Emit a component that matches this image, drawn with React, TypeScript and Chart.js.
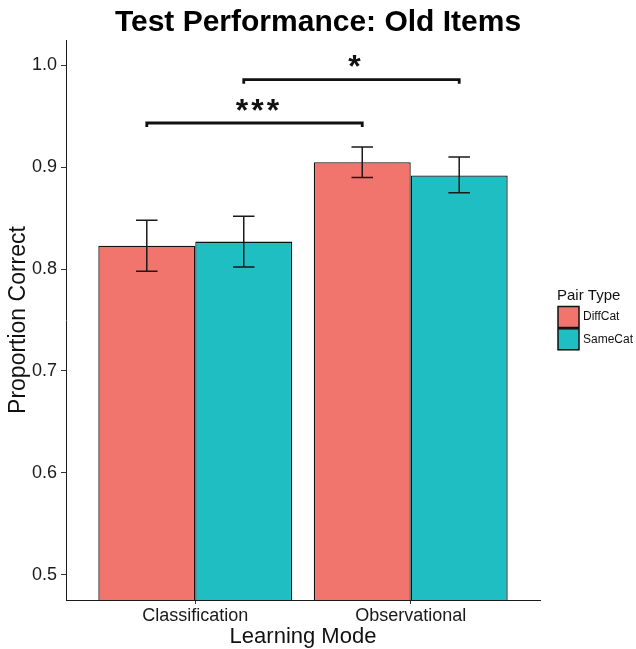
import React, { useEffect, useRef } from 'react';
import { Chart, registerables } from 'chart.js';

Chart.register(...registerables);

const FONT = "'Liberation Sans', Arial, sans-serif";

const chartTitle = 'Test Performance: Old Items';
const xTitle = 'Learning Mode';
const yTitle = 'Proportion Correct';
const legendTitle = 'Pair Type';

const categories = ['Classification', 'Observational'];
const categoryPositions = [1, 2];
const seriesNames = ['DiffCat', 'SameCat'];
const seriesColors = ['#F2756D', '#1FBEC2'];

const diffCatMeans = [0.823, 0.905];
const diffCatLow = [0.798, 0.89];
const diffCatHigh = [0.848, 0.92];
const sameCatMeans = [0.827, 0.892];
const sameCatLow = [0.802, 0.875];
const sameCatHigh = [0.852, 0.91];

const yTicks = [0.5, 0.6, 0.7, 0.8, 0.9, 1.0];
const yMin = 0.475;
const yMax = 1.025;
const xMin = 0.4;
const xMax = 2.6;

const sigLabels = ['***', '*'];
const sigHeights = [0.9435, 0.986];
const sigSeries = [0, 1]; // series compared across the two categories
const sigHook = 0.004;
const whiskerHalfWidth = 0.05;

const errLows = [diffCatLow, sameCatLow];
const errHighs = [diffCatHigh, sameCatHigh];

const titlePlugin = {
  id: 'centeredTitle',
  afterDraw(chart: any) {
    const { ctx, width } = chart;
    ctx.save();
    ctx.fillStyle = '#000';
    ctx.font = `bold 30px ${FONT}`;
    ctx.textAlign = 'center';
    ctx.textBaseline = 'alphabetic';
    ctx.fillText(chartTitle, width / 2, 31);
    ctx.restore();
  },
};

const errorBarPlugin = {
  id: 'errorBars',
  afterDatasetsDraw(chart: any) {
    const { ctx, scales } = chart;
    const x = scales.x;
    const y = scales.y;
    const half = x.getPixelForValue(1 + whiskerHalfWidth) - x.getPixelForValue(1);
    ctx.save();
    ctx.strokeStyle = '#1a1a1a';
    ctx.lineWidth = 1.5;
    chart.data.datasets.forEach((_ds: any, di: number) => {
      const meta = chart.getDatasetMeta(di);
      meta.data.forEach((bar: any, i: number) => {
        const cx = bar.x;
        const yl = y.getPixelForValue(errLows[di][i]);
        const yh = y.getPixelForValue(errHighs[di][i]);
        ctx.beginPath();
        ctx.moveTo(cx, yh);
        ctx.lineTo(cx, yl);
        ctx.moveTo(cx - half, yh);
        ctx.lineTo(cx + half, yh);
        ctx.moveTo(cx - half, yl);
        ctx.lineTo(cx + half, yl);
        ctx.stroke();
      });
    });
    ctx.restore();
  },
};

const bracketPlugin = {
  id: 'sigBrackets',
  afterDatasetsDraw(chart: any) {
    const { ctx, scales } = chart;
    const y = scales.y;
    const size = 32;
    ctx.save();
    sigLabels.forEach((label, k) => {
      const meta = chart.getDatasetMeta(sigSeries[k]);
      const x1 = meta.data[0].x;
      const x2 = meta.data[1].x;
      const yy = y.getPixelForValue(sigHeights[k]);
      const yh = y.getPixelForValue(sigHeights[k] - sigHook);
      ctx.strokeStyle = '#111';
      ctx.lineWidth = 2.8;
      ctx.lineJoin = 'miter';
      ctx.beginPath();
      ctx.moveTo(x1, yh);
      ctx.lineTo(x1, yy);
      ctx.lineTo(x2, yy);
      ctx.lineTo(x2, yh);
      ctx.stroke();
      ctx.fillStyle = '#111';
      ctx.font = `bold ${size}px ${FONT}`;
      ctx.textAlign = 'center';
      ctx.textBaseline = 'alphabetic';
      const spacing = label.length > 1 ? 3 : 0;
      try {
        (ctx as any).letterSpacing = `${spacing}px`;
      } catch (e) {
        /* ignore */
      }
      ctx.fillText(label, (x1 + x2) / 2 + 3 + spacing / 2, yy - 21 + 0.58 * size);
    });
    ctx.restore();
  },
};

const legendPlugin = {
  id: 'pairLegend',
  afterDraw(chart: any) {
    const { ctx, chartArea } = chart;
    const cy = (chartArea.top + chartArea.bottom) / 2;
    const lx = chartArea.right + 17;
    ctx.save();
    ctx.fillStyle = '#111';
    ctx.font = `15px ${FONT}`;
    ctx.textAlign = 'left';
    ctx.textBaseline = 'alphabetic';
    ctx.fillText(legendTitle, lx, cy - 20.5);
    chart.data.datasets.forEach((ds: any, i: number) => {
      const top = cy - 13.5 + i * 22.3;
      ctx.fillStyle = ds.backgroundColor;
      ctx.fillRect(lx + 1, top, 21, 21);
      ctx.strokeStyle = '#111';
      ctx.lineWidth = 1.5;
      ctx.strokeRect(lx + 1, top, 21, 21);
      ctx.fillStyle = '#111';
      ctx.font = `12px ${FONT}`;
      ctx.textBaseline = 'middle';
      ctx.fillText(ds.label, lx + 26, top + 10.5);
    });
    ctx.restore();
  },
};

export default function App() {
  const canvasRef = useRef<HTMLCanvasElement | null>(null);

  useEffect(() => {
    if (!canvasRef.current) return;
    Chart.defaults.font.family = FONT;
    const means = [diffCatMeans, sameCatMeans];
    const chart = new Chart(canvasRef.current, {
      type: 'bar',
      data: {
        datasets: seriesNames.map((name, si) => ({
          label: name,
          data: categoryPositions.map((pos, ci) => ({ x: pos, y: means[si][ci] })),
          backgroundColor: seriesColors[si],
          borderColor: '#111',
          borderWidth: 1.3,
          borderSkipped: false,
          categoryPercentage: 0.9,
          barPercentage: 1.0,
          clip: 0,
        })),
      },
      options: {
        responsive: false,
        animation: false,
        layout: { padding: { right: 96, left: 0, top: 40, bottom: 0 } },
        plugins: {
          legend: { display: false },
          tooltip: { enabled: false },
          title: { display: false },
        },
        scales: {
          x: {
            type: 'linear',
            min: xMin,
            max: xMax,
            offset: false,
            afterBuildTicks: (s: any) => {
              s.ticks = categoryPositions.map((v) => ({ value: v }));
            },
            afterFit: (s: any) => {
              s.height = 49;
            },
            ticks: {
              callback: (v: any) => {
                const idx = categoryPositions.indexOf(Number(v));
                return idx >= 0 ? categories[idx] : '';
              },
              font: { size: 18, family: FONT },
              color: '#1a1a1a',
              padding: 1,
              maxRotation: 0,
              autoSkip: false,
            },
            grid: {
              display: true,
              drawOnChartArea: false,
              drawTicks: true,
              tickLength: 4,
              color: '#333',
              offset: false,
            },
            border: { display: true, color: '#1a1a1a', width: 1, z: 1 },
            title: {
              display: true,
              text: xTitle,
              color: '#111',
              font: { size: 22, family: FONT },
              padding: { top: 0, bottom: -1 },
            },
          },
          y: {
            type: 'linear',
            min: yMin,
            max: yMax,
            beginAtZero: false,
            afterBuildTicks: (s: any) => {
              s.ticks = yTicks.map((v) => ({ value: v }));
            },
            afterFit: (s: any) => {
              s.width = 66;
            },
            ticks: {
              callback: (v: any) => Number(v).toFixed(1),
              font: { size: 18, family: FONT },
              color: '#1a1a1a',
              padding: 4,
            },
            grid: {
              display: true,
              drawOnChartArea: false,
              drawTicks: true,
              tickLength: 5,
              color: '#333',
            },
            border: { display: true, color: '#1a1a1a', width: 1, z: 1 },
            title: {
              display: true,
              text: yTitle,
              color: '#111',
              font: { size: 23, family: FONT },
              padding: { top: 5, bottom: 0 },
            },
          },
        },
      } as any,
      plugins: [errorBarPlugin, bracketPlugin, legendPlugin, titlePlugin],
    });
    return () => chart.destroy();
  }, []);

  return (
    <div style={{ position: 'absolute', left: 0, top: 0, width: 636, height: 649, background: '#fff' }}>
      <canvas ref={canvasRef} width={636} height={649} style={{ display: 'block' }} />
    </div>
  );
}
